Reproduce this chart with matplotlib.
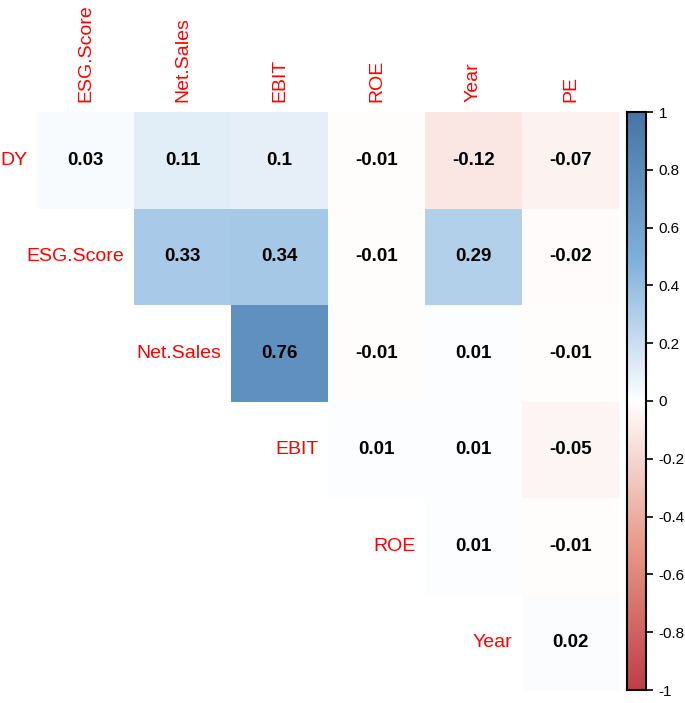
import numpy as np
import matplotlib
matplotlib.use('Agg')
import matplotlib.pyplot as plt
from matplotlib.colors import LinearSegmentedColormap

plt.rcParams['font.family'] = ['Liberation Sans', 'DejaVu Sans']

rows = ['DY', 'ESG.Score', 'Net.Sales', 'EBIT', 'ROE', 'Year']
cols = ['ESG.Score', 'Net.Sales', 'EBIT', 'ROE', 'Year', 'PE']
nan = np.nan
dy = [0.03, 0.11, 0.1, -0.01, -0.12, -0.07]
esg = [nan, 0.33, 0.34, -0.01, 0.29, -0.02]
sales = [nan, nan, 0.76, -0.01, 0.01, -0.01]
ebit = [nan, nan, nan, 0.01, 0.01, -0.05]
roe = [nan, nan, nan, nan, 0.01, -0.01]
year = [nan, nan, nan, nan, nan, 0.02]
corr = np.array([dy, esg, sales, ebit, roe, year])

cmap = LinearSegmentedColormap.from_list(
    'rdbu_soft',
    [(0.0, '#BE3F46'), (0.25, '#E99A8A'), (0.5, '#FFFFFF'),
     (0.75, '#7DAFDC'), (1.0, '#4675A6')])

W, H = 685, 703
fig = plt.figure(figsize=(W / 100, H / 100), dpi=100)

# heatmap area in pixels: x 37..619, y 112..691
ax = fig.add_axes([37 / W, (H - 691) / H, 582 / W, 579 / H])
m = np.ma.masked_invalid(corr)
ax.pcolormesh(np.arange(7) - 0.5, np.arange(7) - 0.5, m, cmap=cmap,
              vmin=-1, vmax=1, edgecolors='none')
ax.set_xlim(-0.5, 5.5)
ax.set_ylim(5.5, -0.5)
ax.axis('off')

for i in range(len(rows)):
    for j in range(len(cols)):
        v = corr[i, j]
        if np.isnan(v):
            continue
        ax.text(j, i, f'{v:g}', ha='center', va='center',
                fontsize=13.5, fontweight='bold', color='black')
    # row label sits just left of the first cell of the row
    ax.text(i - 0.6, i, rows[i], ha='right', va='center',
            fontsize=14, color='red', clip_on=False)

for j, c in enumerate(cols):
    ax.text(j, -0.6, c, ha='center', va='bottom', rotation=90,
            fontsize=14, color='red')

# colour bar
cax = fig.add_axes([627 / W, (H - 690) / H, 19 / W, 578 / H])
grad = np.linspace(-1, 1, 256).reshape(-1, 1)
cax.imshow(grad, aspect='auto', cmap=cmap, vmin=-1, vmax=1,
           origin='lower', extent=[0, 1, -1, 1])
cax.set_xticks([])
cax.yaxis.tick_right()
ticks = np.round(np.arange(-1, 1.01, 0.2), 1) + 0.0
cax.set_yticks(ticks)
cax.set_yticklabels([f'{t + 0:g}' for t in ticks], fontsize=11)
cax.tick_params(axis='y', length=5, width=1.2, pad=4)
for s in cax.spines.values():
    s.set_linewidth(1.5)

fig.savefig('out.png', dpi=100)
